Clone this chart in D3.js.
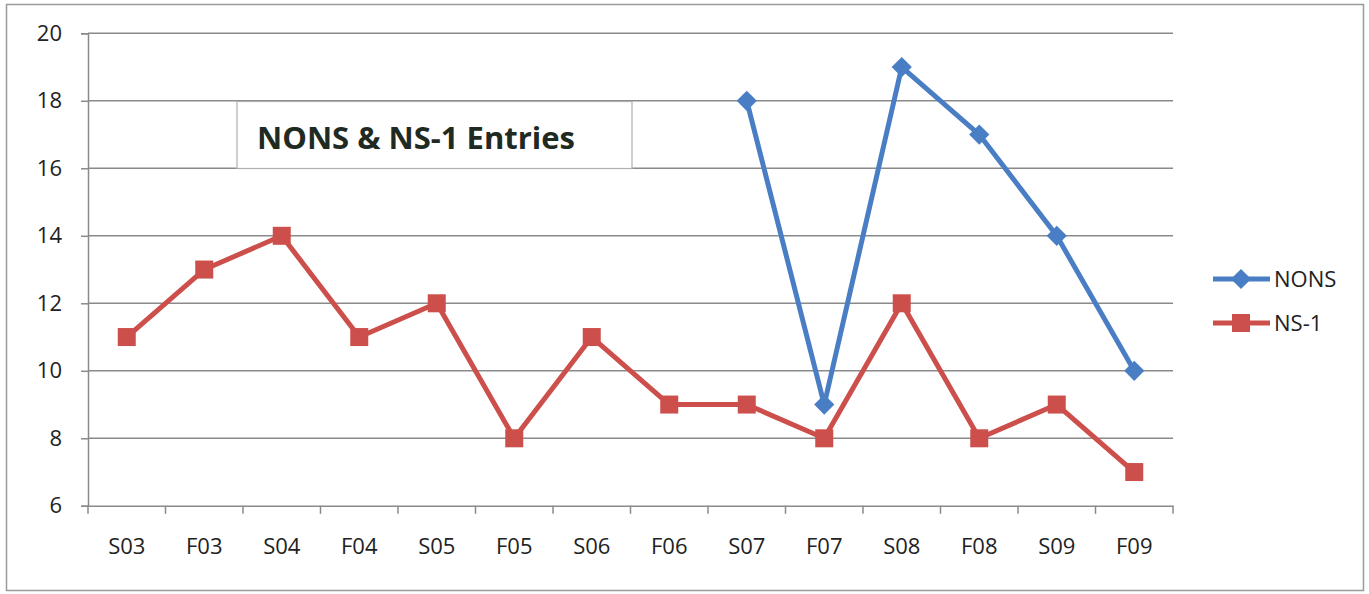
<!DOCTYPE html>
<html><head><meta charset="utf-8">
<script src="https://cdn.jsdelivr.net/npm/d3@7"></script>
<style>body{margin:0;background:#fff}svg{display:block}</style>
</head><body>
<svg id="c" width="1369" height="594"></svg>
<script>
const categories = ["S03","F03","S04","F04","S05","F05","S06","F06","S07","F07","S08","F08","S09","F09"];
const nonsValues = [null,null,null,null,null,null,null,null,18,9,19,17,14,10];
const ns1Values = [11,13,14,11,12,8,11,9,9,8,12,8,9,7];
const yTicks = [6,8,10,12,14,16,18,20];
const seriesNames = ["NONS","NS-1"];
const titleText = "NONS & NS-1 Entries";

const svg = d3.select("#c");
const font = "'Open Sans', 'Liberation Sans', sans-serif";
const L = 88, R = 1173, T = 33.3, B = 505.8;
const x = d3.scaleBand().domain(categories).range([L, R]);
const y = d3.scaleLinear().domain([6, 20]).range([B, T]);
const blue = "#4A7EC4", red = "#CD4F4B", grid = "#8a8a8a";

// outer border
svg.append("rect").attr("x",6.5).attr("y",4.5).attr("width",1357).attr("height",586)
  .attr("fill","#fff").attr("stroke","#9a9a9a").attr("stroke-width",1.5);

// gridlines
svg.append("g").selectAll("line").data(yTicks.filter(d=>d>6)).join("line")
  .attr("x1",L).attr("x2",R).attr("y1",d=>y(d)).attr("y2",d=>y(d))
  .attr("stroke",grid).attr("stroke-width",1.5);

// y axis
const ya = svg.append("g").attr("transform",`translate(${L},0)`)
  .call(d3.axisLeft(y).tickValues(yTicks).tickSize(7).tickPadding(19));
ya.attr("font-size",null);
ya.select(".domain").attr("stroke",grid).attr("stroke-width",1.5);
ya.selectAll(".tick line").attr("stroke",grid).attr("stroke-width",1.5);
ya.selectAll("text").attr("font-family",font).attr("font-size",22).attr("fill","#222");

// x axis
const xa = svg.append("g").attr("transform",`translate(0,${B})`)
  .call(d3.axisBottom(x).tickSize(0).tickPadding(33));
xa.attr("font-size",null);
xa.select(".domain").attr("stroke",grid).attr("stroke-width",1.5);
xa.selectAll("text").attr("font-family",font).attr("font-size",22).attr("fill","#222");
svg.append("g").selectAll("line").data(d3.range(categories.length+1)).join("line")
  .attr("x1",i=>L + i*x.step()).attr("x2",i=>L + i*x.step())
  .attr("y1",B).attr("y2",B+8).attr("stroke",grid).attr("stroke-width",1.5);

// title box
svg.append("rect").attr("x",237).attr("y",101.5).attr("width",395).attr("height",67)
  .attr("fill","#fff").attr("stroke","#b0b0b0").attr("stroke-width",1.2);
svg.append("text").attr("x",257).attr("y",149).attr("font-family",font).attr("font-weight","bold")
  .attr("font-size",31).attr("fill","#1f2a22").text(titleText);

const cx = c => x(c) + x.bandwidth()/2;
const line = d3.line().defined(d=>d.v!=null).x(d=>cx(d.c)).y(d=>y(d.v));
const nonsData = categories.map((c,i)=>({c, v:nonsValues[i]}));
const ns1Data = categories.map((c,i)=>({c, v:ns1Values[i]}));

svg.append("path").datum(ns1Data).attr("d",line).attr("fill","none")
  .attr("stroke",red).attr("stroke-width",5).attr("stroke-linejoin","round");
svg.append("g").selectAll("rect").data(ns1Data.filter(d=>d.v!=null)).join("rect")
  .attr("x",d=>cx(d.c)-9).attr("y",d=>y(d.v)-9).attr("width",18).attr("height",18)
  .attr("fill",red);

svg.append("path").datum(nonsData).attr("d",line).attr("fill","none")
  .attr("stroke",blue).attr("stroke-width",5).attr("stroke-linejoin","round");
const diamond = d3.symbol().type(d3.symbolDiamond2).size(260);
svg.append("g").selectAll("path").data(nonsData.filter(d=>d.v!=null)).join("path")
  .attr("transform",d=>`translate(${cx(d.c)},${y(d.v)})`).attr("d",diamond).attr("fill",blue);

// legend
const lg = svg.append("g");
const legendColors = [blue, red];
seriesNames.forEach((n,i)=>{
  const ly = 279 + i*44;
  lg.append("line").attr("x1",1213).attr("x2",1270).attr("y1",ly).attr("y2",ly)
    .attr("stroke",legendColors[i]).attr("stroke-width",5);
  if(i===0){
    lg.append("path").attr("transform",`translate(1241,${ly})`).attr("d",diamond).attr("fill",blue);
  } else {
    lg.append("rect").attr("x",1232).attr("y",ly-9).attr("width",18).attr("height",18).attr("fill",red);
  }
  lg.append("text").attr("x",1274).attr("y",ly+8).attr("font-family",font).attr("font-size",22)
    .attr("fill","#222").text(n);
});
</script>
</body></html>
